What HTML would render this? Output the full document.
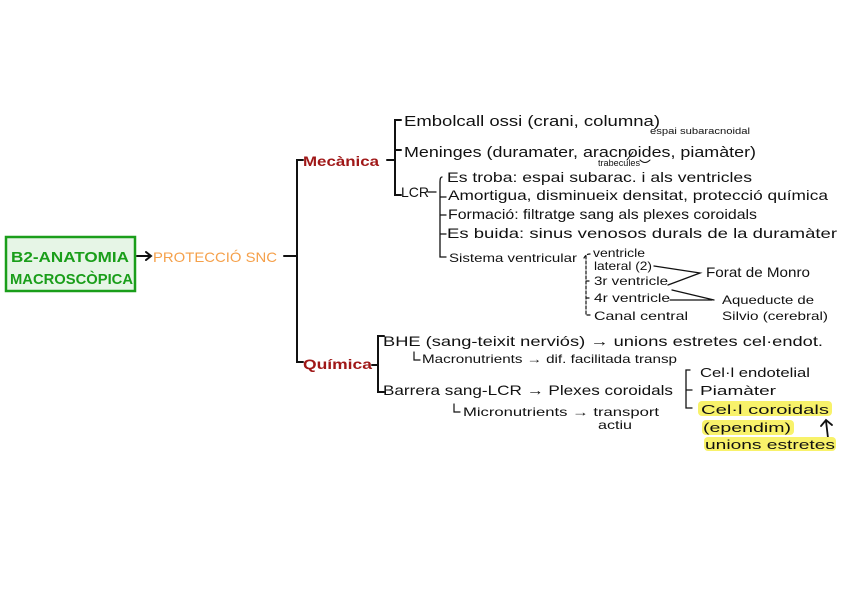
<!DOCTYPE html>
<html><head><meta charset="utf-8"><style>
html,body{margin:0;padding:0;background:#fff;}
svg{display:block;}
text{font-family:"Liberation Sans",sans-serif;fill:#111;}
</style></head><body>
<svg width="848" height="599" viewBox="0 0 848 599" xmlns="http://www.w3.org/2000/svg">
<g stroke="#111" stroke-width="2" fill="none" stroke-linecap="round">
<rect x="6" y="237" width="129" height="54" fill="#e6f5e6" stroke="#1a9e1a" stroke-width="2.5"/>
<path d="M137 256 H150 M146 252 L151 256 L146 260"/>
<path d="M284 256 H297 M303 160 H297 V362 H303"/>
<path d="M387 160 H395 M401 120 H395 V195 H401 M395 150 H401"/>
<path d="M428 192 H436 M442 177 Q440 177 440 182 V257 H446 M440 197 H446 M440 215 H446 M440 234 H446" stroke-width="1.3"/>
<path d="M584 258 Q586 254 590 254 M586 256 V315 H590 M586 281 H590 M586 298 H590" stroke-width="1.2" stroke-dasharray="3 2"/>
<path d="M654 266 L700 273 L668 285 M670 300 H712 M672 290 L714 300" stroke-width="1.3"/>
<path d="M372 365 H378 M384 336 H378 V392 H384"/>
<path d="M414 352 V360 H420 M454 404 V412 H460" stroke-width="1.2"/>
<path d="M690 370 H686 V408 H692 M686 390 H692" stroke-width="1.3"/>
<path d="M828 438 L826 421 M821 426 L826 420 L832 425" stroke-width="1.8"/>
<path d="M633 152 L627 160 M640 160 Q645 165 650 160" stroke-width="1"/>
</g>
<rect x="698" y="401" width="134" height="15" fill="#f8f26a" rx="4"/>
<rect x="702" y="420" width="92" height="15" fill="#f8f26a" rx="4"/>
<rect x="704" y="437" width="132" height="14" fill="#f8f26a" rx="4"/>
<text x="11" y="262" font-size="15" font-weight="bold" style="fill:#1a9e1a" textLength="118" lengthAdjust="spacingAndGlyphs">B2-ANATOMIA</text>
<text x="10" y="284" font-size="15" font-weight="bold" style="fill:#1a9e1a" textLength="123" lengthAdjust="spacingAndGlyphs">MACROSCÒPICA</text>
<text x="153" y="262" font-size="14" style="fill:#f5a04a" textLength="124" lengthAdjust="spacingAndGlyphs">PROTECCIÓ SNC</text>
<text x="303" y="166" font-size="14" font-weight="bold" style="fill:#a01818" textLength="76" lengthAdjust="spacingAndGlyphs">Mecànica</text>
<text x="303" y="369" font-size="14" font-weight="bold" style="fill:#a01818" textLength="69" lengthAdjust="spacingAndGlyphs">Química</text>
<text x="404" y="126" font-size="15" textLength="256" lengthAdjust="spacingAndGlyphs">Embolcall ossi (crani, columna)</text>
<text x="650" y="134" font-size="9" textLength="100" lengthAdjust="spacingAndGlyphs">espai subaracnoidal</text>
<text x="404" y="157" font-size="15" textLength="352" lengthAdjust="spacingAndGlyphs">Meninges (duramater, aracnoides, piamàter)</text>
<text x="598" y="166" font-size="9" textLength="42" lengthAdjust="spacingAndGlyphs">trabecules</text>
<text x="401" y="197" font-size="14" textLength="28" lengthAdjust="spacingAndGlyphs">LCR</text>
<g font-size="14">
<text x="447" y="182" textLength="305" lengthAdjust="spacingAndGlyphs">Es troba: espai subarac. i als ventricles</text>
<text x="448" y="200" textLength="380" lengthAdjust="spacingAndGlyphs">Amortigua, disminueix densitat, protecció química</text>
<text x="448" y="219" textLength="309" lengthAdjust="spacingAndGlyphs">Formació: filtratge sang als plexes coroidals</text>
<text x="447" y="238" textLength="390" lengthAdjust="spacingAndGlyphs">Es buida: sinus venosos durals de la duramàter</text>
</g>
<text x="449" y="262" font-size="12" textLength="128" lengthAdjust="spacingAndGlyphs">Sistema ventricular</text>
<g font-size="12">
<text x="593" y="257" textLength="52" lengthAdjust="spacingAndGlyphs">ventricle</text>
<text x="594" y="270" textLength="58" lengthAdjust="spacingAndGlyphs">lateral (2)</text>
<text x="594" y="285" textLength="74" lengthAdjust="spacingAndGlyphs">3r ventricle</text>
<text x="594" y="302" textLength="76" lengthAdjust="spacingAndGlyphs">4r ventricle</text>
<text x="594" y="320" textLength="94" lengthAdjust="spacingAndGlyphs">Canal central</text>
<text x="722" y="304" textLength="92" lengthAdjust="spacingAndGlyphs">Aqueducte de</text>
<text x="722" y="320" textLength="106" lengthAdjust="spacingAndGlyphs">Silvio (cerebral)</text>
</g>
<text x="706" y="277" font-size="14" textLength="104" lengthAdjust="spacingAndGlyphs">Forat de Monro</text>
<text x="383" y="346" font-size="14" textLength="440" lengthAdjust="spacingAndGlyphs">BHE (sang-teixit nerviós) → unions estretes cel·endot.</text>
<text x="422" y="363" font-size="12" textLength="255" lengthAdjust="spacingAndGlyphs">Macronutrients → dif. facilitada transp</text>
<text x="383" y="395" font-size="14" textLength="290" lengthAdjust="spacingAndGlyphs">Barrera sang-LCR → Plexes coroidals</text>
<text x="463" y="416" font-size="12" textLength="196" lengthAdjust="spacingAndGlyphs">Micronutrients → transport</text>
<text x="598" y="429" font-size="12" textLength="34" lengthAdjust="spacingAndGlyphs">actiu</text>
<g font-size="13">
<text x="700" y="377" textLength="110" lengthAdjust="spacingAndGlyphs">Cel·l endotelial</text>
<text x="700" y="395" textLength="76" lengthAdjust="spacingAndGlyphs">Piamàter</text>
<text x="701" y="414" textLength="128" lengthAdjust="spacingAndGlyphs">Cel·l coroidals</text>
<text x="703" y="432" textLength="88" lengthAdjust="spacingAndGlyphs">(ependim)</text>
<text x="705" y="449" textLength="130" lengthAdjust="spacingAndGlyphs">unions estretes</text>
</g>
</svg>
</body></html>
